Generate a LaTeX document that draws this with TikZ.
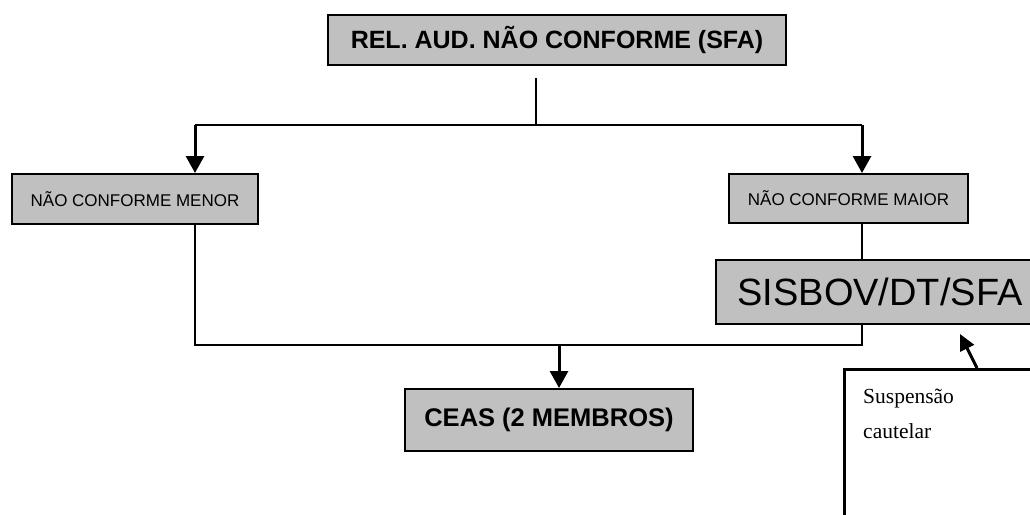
\documentclass[tikz,border=0pt]{standalone}
\usepackage{fontspec}
\setmainfont{Liberation Serif}
\setsansfont{Liberation Sans}
\usetikzlibrary{arrows.meta}
\definecolor{boxgray}{HTML}{C0C0C0}
\newcommand{\fsz}[1]{\fontsize{#1}{1.2\dimexpr#1pt\relax}\selectfont}

\begin{document}
\begin{tikzpicture}[x=1pt,y=-1pt,
  box/.style={draw,line width=2pt,fill=boxgray,inner sep=0pt,font=\sffamily},
  link/.style={line width=2pt},
  arr/.style={line width=3pt,-{Triangle[width=18pt,length=17pt]}}]
\useasboundingbox (0,0) rectangle (1030,514);
\clip (0,0) rectangle (1030,514);
\node[box,minimum width=458pt,minimum height=50pt,font=\sffamily\bfseries\fsz{25}] (rel) at (557,40) {REL. AUD. NÃO CONFORME (SFA)};
\node[box,minimum width=246pt,minimum height=50pt,font=\sffamily\fsz{17}] (menor) at (135,199) {NÃO CONFORME MENOR};
\node[box,minimum width=239pt,minimum height=49pt,font=\sffamily\fsz{17}] (maior) at (848.5,198.5) {NÃO CONFORME MAIOR};
\node[box,minimum width=328pt,minimum height=64pt,font=\sffamily\fsz{38}] (sisbov) at (880,292) {SISBOV/DT/SFA};
\node[box,minimum width=288pt,minimum height=62pt,font=\sffamily\bfseries\fsz{25.5}] (ceas) at (549,420) {CEAS (2 MEMBROS)};
\node[draw,line width=3pt,fill=white,anchor=north west,minimum width=230pt,minimum height=200pt] (susp) at (843,368) {};
\node[anchor=north west,align=left,inner sep=0pt,font=\fontsize{21.5}{35}\selectfont] (susptxt) at (863,389) {Suspensão\\cautelar};

\coordinate (split) at (536,125);
\coordinate (ltop) at (195,125);
\coordinate (rtop) at (862,125);
\coordinate (lbot) at (195,345);
\coordinate (rbot) at (862,345);
\coordinate (mid) at (559,345);
\coordinate (tip) at (960,334);

\draw[link] ([yshift=-12pt]rel.south -| split) -- (split);
\draw[link] (ltop) -- (rtop);
\draw[arr] (ltop) -- (ltop |- menor.north);
\draw[arr] (rtop) -- (rtop |- maior.north);
\draw[link] (rtop |- maior.south) -- (rtop |- sisbov.north);
\draw[link] (ltop |- menor.south) -- (lbot) -- (rbot) -- (rtop |- sisbov.south);
\draw[arr] (mid) -- (mid |- ceas.north);
\draw[line width=3pt,-{Triangle[width=15pt,length=16pt]}] ([xshift=134pt]susp.north west) -- (tip);
\end{tikzpicture}
\end{document}
